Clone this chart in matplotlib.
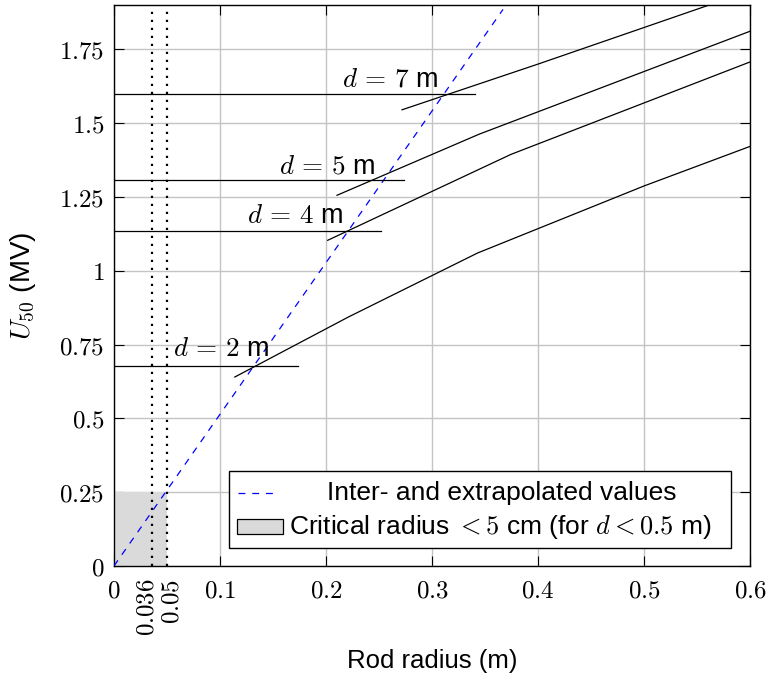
import matplotlib
matplotlib.use("Agg")
import matplotlib.pyplot as plt
from matplotlib.patches import Rectangle
from matplotlib.lines import Line2D
from matplotlib.transforms import ScaledTranslation

plt.rcParams["font.family"] = ["Liberation Sans", "DejaVu Sans"]
plt.rcParams["mathtext.fontset"] = "cm"

# U50 vs rod radius, one curve per gap distance d (m)
gaps = ["2", "4", "5", "7"]
radius = [
    [0.114, 0.221, 0.343, 0.500, 0.600],
    [0.2016, 0.3745, 0.600],
    [0.2104, 0.3446, 0.600],
    [0.2717, 0.401, 0.560],
]
u50 = [
    [0.640, 0.843, 1.060, 1.287, 1.421],
    [1.103, 1.394, 1.707],
    [1.2555, 1.4626, 1.811],
    [1.545, 1.701, 1.898],
]

# U50 level for each d, drawn from r = 0 out to crit_end
crit_u50 = [0.677, 1.135, 1.308, 1.600]
crit_end = [0.174, 0.252, 0.274, 0.341]

# inter- and extrapolated values
extrap_r = [0.0, 0.367]
extrap_u = [0.0, 1.885]

# critical radius markers and the d < 0.5 m region
crit_radius = [0.036, 0.05]
crit_radius_labels = ["$0.036$", "$0.05$"]
box_r = 0.05
box_u = 0.25

x_ticks = [0, 0.1, 0.2, 0.3, 0.4, 0.5, 0.6]
x_labels = ["$0$", "$0.1$", "$0.2$", "$0.3$", "$0.4$", "$0.5$", "$0.6$"]
y_ticks = [0, 0.25, 0.5, 0.75, 1, 1.25, 1.5, 1.75]
y_labels = ["$0$", "$0.25$", "$0.5$", "$0.75$", "$1$", "$1.25$", "$1.5$", "$1.75$"]

# where the "d = .. m" labels sit (center x, baseline y)
label_r = [0.101, 0.171, 0.201, 0.261]
label_u = [0.711, 1.162, 1.329, 1.625]

fig = plt.figure(figsize=(7.69, 6.82), dpi=100)
ax = fig.add_axes([0.1482, 0.1701, 0.8271, 0.8226])

ax.set_xlim(0, 0.6)
ax.set_ylim(0, 1.9)
ax.set_axisbelow(True)
ax.grid(True, which="major", color="#c4c4c4", linewidth=1.0)

ax.add_patch(Rectangle((0, 0), box_r, box_u, facecolor="#dadada",
                       edgecolor="none", zorder=1))

for r in crit_radius:
    ax.axvline(r, color="black", linestyle=(0, (1, 2.6)), linewidth=1.6, zorder=2)

ax.plot(extrap_r, extrap_u, color="#0000ff", linewidth=0.9,
        dashes=(5.5, 5.5), zorder=3)

for r, u in zip(radius, u50):
    ax.plot(r, u, color="black", linewidth=0.9, zorder=3)

for u, end in zip(crit_u50, crit_end):
    ax.plot([0, end], [u, u], color="black", linewidth=0.9, zorder=3)

for g, lr, lu in zip(gaps, label_r, label_u):
    ax.text(lr, lu, f"$d\\,=\\,{g}$ m", fontsize=19.5, ha="center",
            va="baseline", zorder=4)

for side in ax.spines.values():
    side.set_linewidth(1.0)

ax.set_xticks(x_ticks, labels=x_labels)
ax.set_yticks(y_ticks, labels=y_labels)
ax.set_xticks(crit_radius, labels=crit_radius_labels, minor=True)
ax.tick_params(axis="both", which="major", direction="in", length=7, width=0.8,
               top=True, right=True, labelsize=18)
ax.tick_params(axis="x", which="major", pad=9)
ax.tick_params(axis="y", which="major", pad=7)
ax.tick_params(axis="x", which="minor", length=0, pad=9, labelsize=18,
               labelrotation=90)

shifts = [-6, 5]
for lbl, dx in zip(ax.xaxis.get_minorticklabels(), shifts):
    lbl.set_verticalalignment("top")
    lbl.set_transform(lbl.get_transform() + ScaledTranslation(dx / 100, 0, fig.dpi_scale_trans))

ax.set_xlabel("Rod radius (m)", fontsize=18.5)
ax.xaxis.set_label_coords(0.5, -0.148)
ax.set_ylabel("$U_{50}$ (MV)", fontsize=20)
ax.yaxis.set_label_coords(-0.12, 0.5)

# legend box, text of first entry centred like the original
tr = ax.transAxes
ax.add_patch(Rectangle((0.1808, 0.0321), 0.7892, 0.1372, transform=tr,
                       facecolor="white", edgecolor="black", linewidth=1.0,
                       zorder=6))
ax.add_line(Line2D([0.195, 0.258], [0.1307, 0.1307], transform=tr,
                   color="#0000ff", linewidth=0.9, dashes=(5.5, 5.5), zorder=7))
ax.add_patch(Rectangle((0.1934, 0.057), 0.0723, 0.0268, transform=tr,
                       facecolor="#dadada", edgecolor="black", linewidth=0.9,
                       zorder=7))
ax.text(0.610, 0.1307, "Inter- and extrapolated values", transform=tr,
        fontsize=19, ha="center", va="center", zorder=7)
ax.text(0.275, 0.0695, "Critical radius $< 5$ cm (for $d < 0.5$ m)",
        transform=tr, fontsize=19, ha="left", va="center", zorder=7)

fig.savefig("out.png", dpi=100)
